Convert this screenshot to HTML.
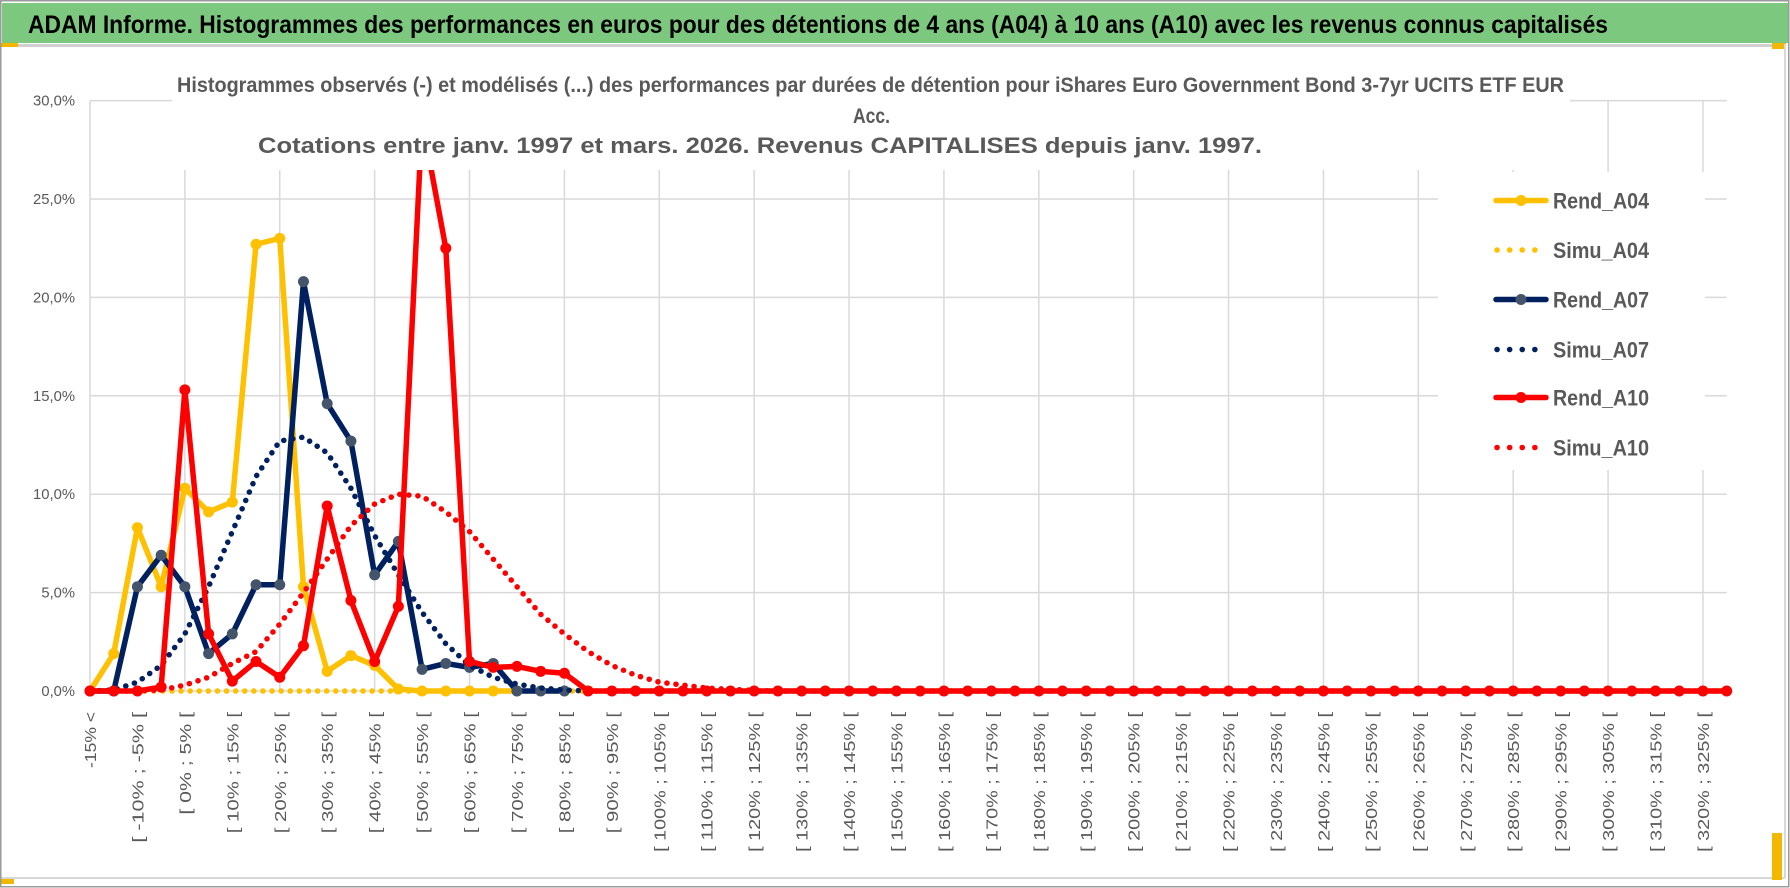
<!DOCTYPE html>
<html><head><meta charset="utf-8"><style>
html,body{margin:0;padding:0;background:#fff;width:1790px;height:888px;overflow:hidden}
svg{display:block}
text{font-family:"Liberation Sans",sans-serif}
</style></head><body>
<svg id="chart" width="1790" height="888" viewBox="0 0 1790 888" xmlns="http://www.w3.org/2000/svg">
<rect x="0" y="0" width="1790" height="888" fill="#fff"/>
<rect x="2" y="3" width="1786" height="40" fill="#7dc87f"/>
<text x="28" y="33" font-size="25" font-weight="bold" fill="#000" textLength="1580" lengthAdjust="spacingAndGlyphs">ADAM Informe. Histogrammes des performances en euros pour des détentions de 4 ans (A04) à 10 ans (A10) avec les revenus connus capitalisés</text>
<rect x="0" y="44" width="1785" height="3" fill="#d0d0d0"/>
<rect x="0" y="43" width="18" height="4" fill="#f2b800"/>
<rect x="1772" y="43" width="14" height="6" fill="#f2b800"/>
<rect x="0" y="877" width="1785" height="2" fill="#d8d8d8"/>
<rect x="0" y="879" width="14" height="5" fill="#f2b800"/>
<rect x="1772" y="833" width="10" height="47" fill="#f2b800"/>
<rect x="1784" y="44" width="2" height="834" fill="#d8d8d8"/>
<rect x="0.75" y="0.75" width="1788" height="886" fill="none" stroke="#9a9a9a" stroke-width="1.5"/>
<g id="grid"></g>
<g id="series"></g>
<rect x="172" y="58" width="1398" height="112" fill="#fff"/>
<text x="177" y="92" font-size="21" font-weight="bold" fill="#595959" textLength="1387" lengthAdjust="spacingAndGlyphs">Histogrammes observés (-) et modélisés (...) des performances par durées de détention pour iShares Euro Government Bond 3-7yr UCITS ETF EUR</text>
<text x="853" y="123" font-size="21" font-weight="bold" fill="#595959" textLength="37" lengthAdjust="spacingAndGlyphs">Acc.</text>
<text x="258" y="153" font-size="22" font-weight="bold" fill="#595959" textLength="1004" lengthAdjust="spacingAndGlyphs">Cotations entre janv. 1997 et mars. 2026. Revenus CAPITALISES depuis janv. 1997.</text>
<rect x="1438" y="172" width="267" height="298" fill="#fff"/>
<g id="legend"></g>
<g id="ylabels"></g>
<g id="xlabels"></g>
</svg>
<script>
const yTicks = [0, 5, 10, 15, 20, 25, 30];
const yTickLabels = ["0,0%", "5,0%", "10,0%", "15,0%", "20,0%", "25,0%", "30,0%"];
const categories = ["-15% <"];
for (let k = 1; k < 70; k++) { const lo = -15 + 5 * (k - 1); categories.push("[ " + lo + "% ; " + (lo + 5) + "% ["); }
const rendA04 = [0,1.9,8.3,5.3,10.3,9.1,9.6,22.7,23.0,5.3,1.0,1.8,1.3,0.1,0,0,0,0,0];
const rendA07 = [0,0,5.3,6.9,5.3,1.9,2.9,5.4,5.4,20.8,14.6,12.7,5.9,7.6,1.1,1.4,1.2,1.4,0,0,0];
const rendA10 = [0,0,0,0.2,15.3,2.9,0.5,1.5,0.7,2.3,9.4,4.6,1.5,4.3,29.0,22.5,1.5,1.2,1.25,1.0,0.9,0,0,0,0,0,0,0,0,0,0,0,0,0,0,0,0,0,0,0,0,0,0,0,0,0,0,0,0,0,0,0,0,0,0,0,0,0,0,0,0,0,0,0,0,0,0,0,0,0];
const simuA04 = [0,0,0,0,0,0,0,0,0,0,0,0,0,0,0,0,0,0,0,0,0,0,0,0,0,0,0,0,0,0,0,0,0,0,0,0,0,0,0,0,0,0,0,0,0,0,0,0,0,0,0,0,0,0,0,0,0,0,0,0,0,0,0,0,0,0,0,0,0,0];
const simuA07 = [0,0.05,0.45,1.3,2.9,5.3,8.1,10.9,12.7,12.9,12.1,10.3,7.9,5.9,4.0,2.4,1.3,0.7,0.35,0.15,0.05,0,0,0,0,0,0,0,0,0,0,0,0,0,0,0,0,0,0,0,0,0,0,0,0,0,0,0,0,0,0,0,0,0,0,0,0,0,0,0,0,0,0,0,0,0,0,0,0,0];
const simuA10 = [0,0,0,0.05,0.3,0.7,1.4,2.0,3.4,5.0,6.7,8.4,9.5,10.0,9.9,9.1,8.1,6.7,5.3,3.9,2.9,2.0,1.3,0.8,0.45,0.3,0.15,0.08,0.03,0,0,0,0,0,0,0,0,0,0,0,0,0,0,0,0,0,0,0,0,0,0,0,0,0,0,0,0,0,0,0,0,0,0,0,0,0,0,0,0,0];
const seriesNames = ["Rend_A04", "Simu_A04", "Rend_A07", "Simu_A07", "Rend_A10", "Simu_A10"];

const NS = "http://www.w3.org/2000/svg";
const X0 = 90, DX = 23.72, Y0 = 691, PPU = 19.68;
const xs = i => X0 + i * DX;
const ys = v => Y0 - v * PPU;
function mk(tag, attrs, parent) { const e = document.createElementNS(NS, tag); for (const k in attrs) e.setAttribute(k, attrs[k]); parent.appendChild(e); return e; }

const grid = document.getElementById("grid");
yTicks.forEach((t) => {
  const l = mk("line", {x1: X0, x2: xs(categories.length - 1), y1: ys(t), y2: ys(t), stroke: "#d9d9d9", "stroke-width": 1.5}, grid);
  
  
});
for (let i = 0; i < categories.length; i += 4) {
  const l = mk("line", {x1: xs(i), x2: xs(i), y1: ys(30), y2: ys(0), stroke: "#d9d9d9", "stroke-width": 1.5}, grid);
  
  
}

const yl = document.getElementById("ylabels");
yTicks.forEach((t, i) => {
  const s = yTickLabels[i];
  const tx = mk("text", {x: 75, y: ys(t) + 5, "font-size": 15, fill: "#595959", "text-anchor": "end", textLength: s.length * 8.4, lengthAdjust: "spacingAndGlyphs"}, yl);
  tx.textContent = s;
  
  
});

const xl = document.getElementById("xlabels");
for (let i = 0; i < categories.length; i += 2) {
  const s = categories[i];
  const tx = mk("text", {x: 0, y: 0, "font-size": 16, fill: "#595959", "text-anchor": "end", transform: "translate(" + (xs(i) + 6) + ",712) rotate(-90)", textLength: s.length * 9.33, lengthAdjust: "spacingAndGlyphs"}, xl);
  tx.textContent = s;
  
  
}

const sg = document.getElementById("series");
function solid(data, color, mcolor, name) {
  const g = mk("g", {}, sg);
  
  
  const pts = data.map((v, i) => xs(i) + "," + ys(v)).join(" ");
  mk("polyline", {points: pts, fill: "none", stroke: color, "stroke-width": 5.5, "stroke-linejoin": "round"}, g);
  data.forEach((v, i) => {
    const c = mk("circle", {cx: xs(i), cy: ys(v), r: 5.5, fill: mcolor}, g);
    
    
  });
}
function dotted(data, color, name) {
  const g = mk("g", {}, sg);
  
  
  const pts = data.map((v, i) => xs(i) + "," + ys(v)).join(" ");
  mk("polyline", {points: pts, fill: "none", stroke: color, "stroke-width": 5.5, "stroke-linecap": "round", "stroke-dasharray": "0.1 9"}, g);
}
solid(rendA04, "#ffc000", "#ffc000", "series-rend-a04");
dotted(simuA04, "#ffc000", "series-simu-a04");
solid(rendA07, "#002060", "#44546a", "series-rend-a07");
dotted(simuA07, "#002060", "series-simu-a07");
solid(rendA10, "#ff0000", "#ff0000", "series-rend-a10");
dotted(simuA10, "#ff0000", "series-simu-a10");

const lg = document.getElementById("legend");
const lcol = [["#ffc000","#ffc000",false],["#ffc000","#ffc000",true],["#002060","#44546a",false],["#002060","#002060",true],["#ff0000","#ff0000",false],["#ff0000","#ff0000",true]];
const rowsY = [200.5, 250, 299.5, 349.5, 397.5, 447.5];
seriesNames.forEach((n, i) => {
  const g = mk("g", {}, lg);
  
  
  const y = rowsY[i];
  const [c, m, dot] = lcol[i];
  if (dot) {
    mk("line", {x1: 1497, x2: i === 5 ? 1545 : 1536, y1: y, y2: y, stroke: c, "stroke-width": 5.5, "stroke-linecap": "round", "stroke-dasharray": "0.1 12.5"}, g);
  } else {
    mk("line", {x1: 1496, x2: 1546, y1: y, y2: y, stroke: c, "stroke-width": 5.5, "stroke-linecap": "round"}, g);
    mk("circle", {cx: 1521, cy: y, r: 5.5, fill: m}, g);
  }
  const t = mk("text", {x: 1553, y: y + 8, "font-size": 22, "font-weight": "bold", fill: "#595959", textLength: 96, lengthAdjust: "spacingAndGlyphs"}, g);
  t.textContent = n;
});
</script>
</body></html>
